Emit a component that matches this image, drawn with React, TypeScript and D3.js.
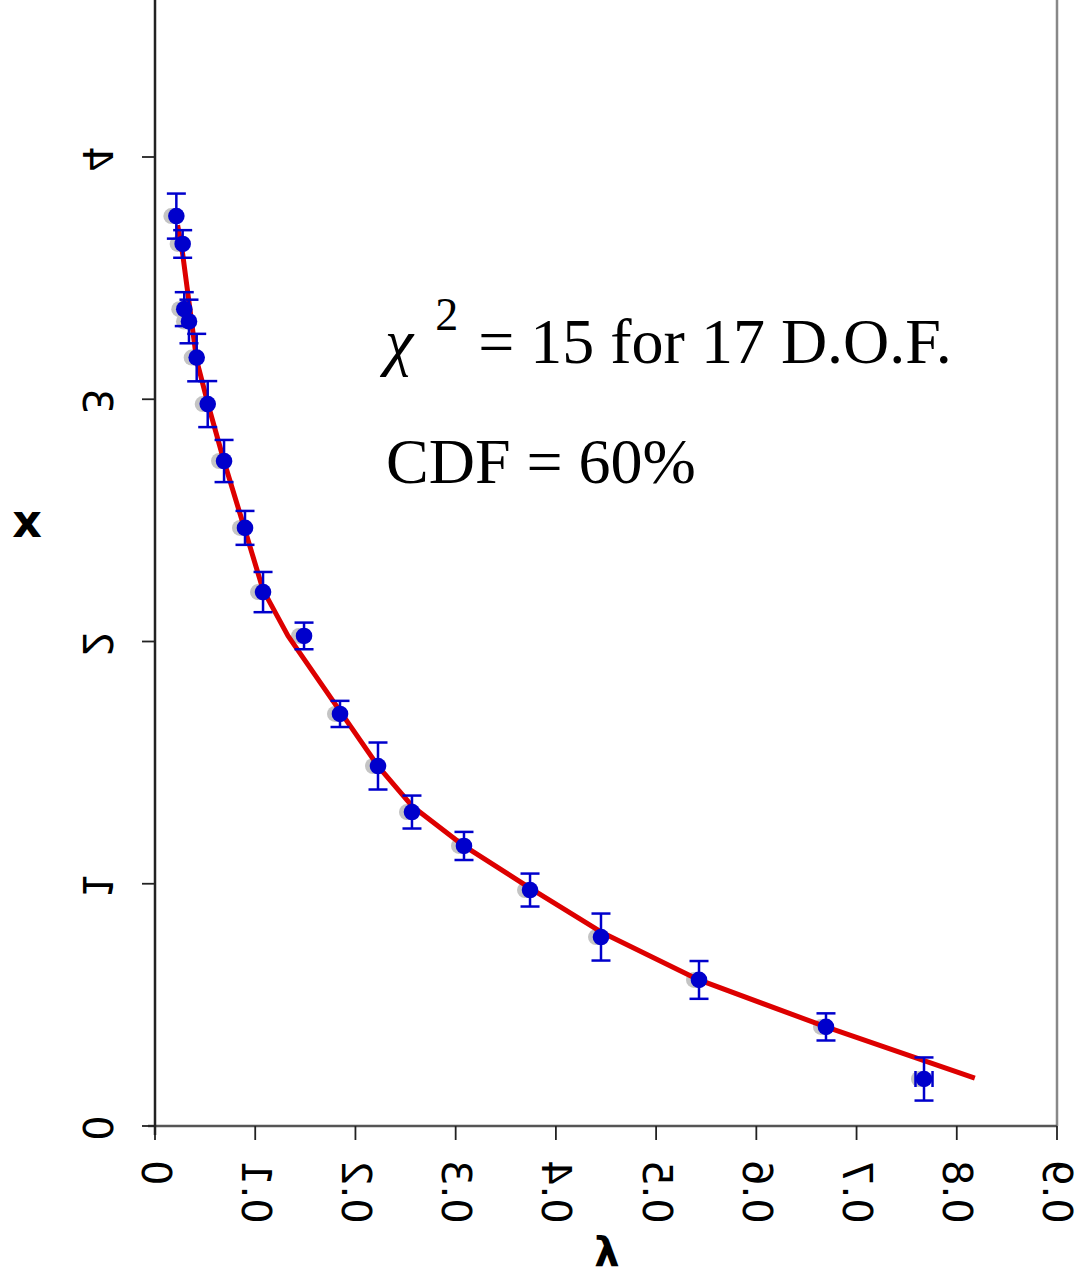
import React from "react";
import * as d3 from "d3";

// ---- data ----
const lambdaVals = [0.0213, 0.0276, 0.0292, 0.0339, 0.0416, 0.0526, 0.0689, 0.0898, 0.1078, 0.1487, 0.1846, 0.2225, 0.2564, 0.3083, 0.3742, 0.445, 0.5428, 0.6695, 0.7673];
const xVals = [3.756, 3.641, 3.372, 3.321, 3.172, 2.98, 2.745, 2.469, 2.204, 2.023, 1.701, 1.486, 1.296, 1.156, 0.974, 0.78, 0.603, 0.409, 0.194];
const xErr = [0.093, 0.057, 0.07, 0.09, 0.098, 0.095, 0.087, 0.07, 0.083, 0.055, 0.054, 0.097, 0.068, 0.058, 0.068, 0.097, 0.078, 0.056, 0.089];
const lambdaErr = [0, 0, 0, 0, 0, 0, 0, 0, 0, 0, 0, 0, 0, 0, 0, 0, 0, 0, 0.0085];
// shadow (reference) series, slightly shifted in lambda
const shadowLambda = lambdaVals.map((v) => v - 0.005);

const fitLambda = [0.0226, 0.0276, 0.0416, 0.0529, 0.0688, 0.0898, 0.1078, 0.1327, 0.2225, 0.2564, 0.3083, 0.3742, 0.445, 0.5428, 0.6695, 0.818];
const fitX = [3.719, 3.6, 3.16, 2.98, 2.745, 2.46, 2.213, 2.023, 1.486, 1.321, 1.156, 0.982, 0.801, 0.603, 0.409, 0.198];

const lambdaTicks = [0, 0.1, 0.2, 0.3, 0.4, 0.5, 0.6, 0.7, 0.8, 0.9];
const lambdaTickLabels = ["0", "0.1", "0.2", "0.3", "0.4", "0.5", "0.6", "0.7", "0.8", "0.9"];
const xTicks = [0, 1, 2, 3, 4];
const xTickLabels = ["0", "1", "2", "3", "4"];

export default function App() {
  const W = 1077, H = 1276;
  const left = 155, right = 1057, bottom = 1126, top = 0;
  const sx = d3.scaleLinear().domain([0, 0.9]).range([left, right]);
  const sy = d3.scaleLinear().domain([0, 4]).range([bottom, 157]);
  const line = d3.line<number>().x((_, i) => sx(fitLambda[i])).y((d) => sy(d));
  const blue = "#0000cc";
  const cap = 9.5;
  const labelFont = "'DejaVu Sans', sans-serif";
  const serif = "'Liberation Serif', 'Times New Roman', serif";
  return (
    <svg width={W} height={H} style={{ position: "absolute", left: 0, top: 0, background: "#fff" }}>
      {/* frame */}
      <line x1={right} y1={top} x2={right} y2={bottom} stroke="#888" strokeWidth={2.5} />
      <line x1={left - 7} y1={bottom} x2={right} y2={bottom} stroke="#555" strokeWidth={2.5} />
      <line x1={left} y1={top} x2={left} y2={bottom + 9} stroke="#222" strokeWidth={2.5} />
      {/* y ticks */}
      {xTicks.map((t, i) => (
        <g key={"yt" + i}>
          <line x1={left - 13} x2={left} y1={sy(t)} y2={sy(t)} stroke="#222" strokeWidth={1.8} />
          <text
            transform={`matrix(0,-1,-1,0,${97},${sy(t) + 2})`}
            textAnchor="middle"
            dy="0.36em"
            fontFamily={labelFont}
            fontSize={40}
            fill="#000"
          >
            {xTickLabels[i]}
          </text>
        </g>
      ))}
      {/* x ticks */}
      {lambdaTicks.map((t, i) => (
        <g key={"xt" + i}>
          <line x1={sx(t)} x2={sx(t)} y1={bottom} y2={bottom + 14} stroke="#222" strokeWidth={1.8} />
          <text
            transform={`matrix(0,-1,-1,0,${Math.min(sx(t) + 1, 1057)},${1160})`}
            textAnchor="end"
            dy="0.36em"
            fontFamily={labelFont}
            fontSize={40}
            fill="#000"
          >
            {lambdaTickLabels[i]}
          </text>
        </g>
      ))}
      {/* axis titles */}
      <text x={27} y={520} textAnchor="middle" dy="0.36em" fontFamily={labelFont} fontWeight="bold" fontSize={46}>x</text>
      <text x={607} y={1266} textAnchor="middle" fontFamily={labelFont} fontWeight="bold" fontSize={40}>λ</text>
      {/* shadow points */}
      {shadowLambda.map((l, i) => (
        <circle key={"s" + i} cx={sx(l)} cy={sy(xVals[i])} r={8} fill="#c4c4c4" />
      ))}
      {/* fit */}
      <path d={line(fitX) || ""} fill="none" stroke="#dd0000" strokeWidth={5} strokeLinejoin="round" />
      {/* error bars */}
      {lambdaVals.map((l, i) => {
        const cx = sx(l), cy = sy(xVals[i]);
        const y1 = sy(xVals[i] + xErr[i]), y2 = sy(xVals[i] - xErr[i]);
        const ex = lambdaErr[i];
        return (
          <g key={"e" + i} stroke={blue} strokeWidth={2.5}>
            <line x1={cx} x2={cx} y1={y1} y2={y2} />
            <line x1={cx - cap} x2={cx + cap} y1={y1} y2={y1} />
            <line x1={cx - cap} x2={cx + cap} y1={y2} y2={y2} />
            {ex > 0 && (
              <>
                <line x1={sx(l - ex)} x2={sx(l + ex)} y1={cy} y2={cy} />
                <line x1={sx(l - ex)} x2={sx(l - ex)} y1={cy - 8} y2={cy + 8} />
                <line x1={sx(l + ex)} x2={sx(l + ex)} y1={cy - 8} y2={cy + 8} />
              </>
            )}
          </g>
        );
      })}
      {/* points */}
      {lambdaVals.map((l, i) => (
        <circle key={"p" + i} cx={sx(l)} cy={sy(xVals[i])} r={8.3} fill={blue} />
      ))}
      {/* annotation */}
      <text x={385} y={363} fontFamily={serif} fontSize={64} fill="#000">
        <tspan fontStyle="italic">χ</tspan>
        <tspan fontSize={46} dy={-33} dx={22}>2</tspan>
        <tspan dy={33} dx={20}>= 15 for 17 D.O.F.</tspan>
      </text>
      <text x={386} y={483} fontFamily={serif} fontSize={64} fill="#000">
        CDF = 60%
      </text>
    </svg>
  );
}
